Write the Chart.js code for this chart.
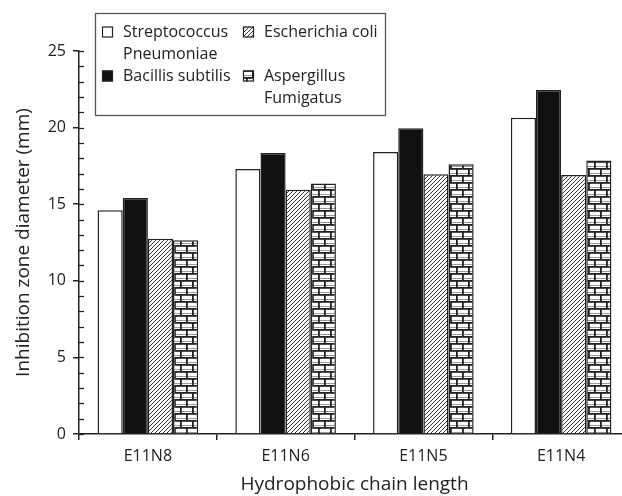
<!DOCTYPE html>
<html>
<head>
<meta charset="utf-8">
<script src="https://cdn.jsdelivr.net/npm/chart.js@4.4.1/dist/chart.umd.min.js"></script>
<style>
  html, body { margin: 0; padding: 0; background: #fff; overflow: hidden; }
  #wrap { width: 622px; height: 496px; overflow: hidden; }
</style>
</head>
<body>
<div id="wrap"><canvas id="chart" width="640" height="496"></canvas></div>
<script>
const categories = ['E11N8', 'E11N6', 'E11N5', 'E11N4'];
const seriesNames = [
  ['Streptococcus', 'Pneumoniae'],
  ['Bacillis subtilis'],
  ['Escherichia coli'],
  ['Aspergillus', 'Fumigatus']
];
const streptococcus = [14.6, 17.3, 18.4, 20.65];
const bacillis = [15.4, 18.35, 19.95, 22.45];
const escherichia = [12.75, 15.95, 16.95, 16.9];
const aspergillus = [12.65, 16.35, 17.6, 17.85];
const yTicks = [0, 5, 10, 15, 20, 25];

const ink = '#222';

function hatchPattern() {
  const c = document.createElement('canvas');
  c.width = 4; c.height = 4;
  const g = c.getContext('2d');
  g.fillStyle = '#fff';
  g.fillRect(0, 0, 4, 4);
  g.strokeStyle = '#333';
  g.lineWidth = 1;
  g.beginPath();
  g.moveTo(0, 4); g.lineTo(4, 0);
  g.moveTo(-1, 1); g.lineTo(1, -1);
  g.moveTo(3, 5); g.lineTo(5, 3);
  g.stroke();
  return g.createPattern(c, 'repeat');
}

function brickPattern() {
  const w = 12, h = 14;
  const c = document.createElement('canvas');
  c.width = w; c.height = h;
  const g = c.getContext('2d');
  g.fillStyle = '#fff';
  g.fillRect(0, 0, w, h);
  g.fillStyle = '#999';
  g.fillRect(0, 5, w, 1);
  g.fillRect(0, 12, w, 1);
  g.fillStyle = ink;
  g.fillRect(0, 0, w, 1.8);
  g.fillRect(0, 7, w, 1.8);
  g.fillRect(0, 0, 1.8, 7);
  g.fillRect(6, 7, 1.8, 7);
  return g.createPattern(c, 'repeat');
}

const fills = ['#fff', '#111', hatchPattern(), brickPattern()];

Chart.defaults.font.family = "'Open Sans', sans-serif";
Chart.defaults.color = ink;

// small ticks on the inner side of the y axis, one per unit
const minorTicks = {
  id: 'minorTicks',
  afterDatasetsDraw(chart) {
    const y = chart.scales.y;
    const x0 = chart.scales.x.left;
    const ctx = chart.ctx;
    ctx.save();
    ctx.strokeStyle = ink;
    ctx.lineWidth = 1.3;
    for (let v = y.min; v <= y.max; v++) {
      const py = Math.round(y.getPixelForValue(v)) + 0.5;
      ctx.beginPath();
      ctx.moveTo(x0, py);
      ctx.lineTo(x0 + 5, py);
      ctx.stroke();
    }
    ctx.restore();
  }
};

// boxed two-column legend with wrapped names
const boxLegend = {
  id: 'boxLegend',
  afterDraw(chart) {
    const ctx = chart.ctx;
    ctx.save();
    ctx.strokeStyle = '#555';
    ctx.lineWidth = 1.3;
    ctx.strokeRect(95.5, 13.5, 290, 102);
    ctx.font = "16px 'Open Sans', sans-serif";
    ctx.textBaseline = 'middle';
    const cols = [102, 243];
    const rows = [32, 76];
    const place = [[0, 0], [0, 1], [1, 0], [1, 1]];
    seriesNames.forEach((lines, i) => {
      const sx = cols[place[i][0]];
      const sy = rows[place[i][1]];
      ctx.fillStyle = fills[i];
      ctx.fillRect(sx, sy - 5.5, 11, 11);
      ctx.strokeStyle = ink;
      ctx.lineWidth = 1.2;
      ctx.strokeRect(sx + 0.5, sy - 5, 10, 10);
      ctx.fillStyle = ink;
      lines.forEach((t, k) => ctx.fillText(t, sx + 21, sy + k * 22));
    });
    ctx.restore();
  }
};

const datasets = [streptococcus, bacillis, escherichia, aspergillus].map((d, i) => ({
  label: seriesNames[i].join(' '),
  data: d,
  backgroundColor: fills[i],
  borderColor: ink,
  borderWidth: 1.5,
  categoryPercentage: 0.73,
  barPercentage: 1.0
}));

new Chart(document.getElementById('chart'), {
  type: 'bar',
  data: { labels: categories, datasets: datasets },
  plugins: [minorTicks, boxLegend],
  options: {
    responsive: false,
    animation: false,
    devicePixelRatio: 1,
    layout: { padding: { left: 8, right: 10, top: 51, bottom: 0 } },
    plugins: { legend: { display: false }, tooltip: { enabled: false } },
    scales: {
      x: {
        afterFit(s) { s.height = 62; },
        grid: { drawOnChartArea: false, color: ink, tickLength: 6, lineWidth: 1.5 },
        border: { color: ink, width: 1.5 },
        ticks: { font: { size: 16 }, padding: 7, color: ink },
        title: { display: true, text: 'Hydrophobic chain length', font: { size: 19 }, padding: { top: 4, bottom: 0 }, color: ink }
      },
      y: {
        min: 0,
        max: 25,
        afterFit(s) { s.width = 71; },
        afterBuildTicks(s) { s.ticks = yTicks.map(v => ({ value: v })); },
        grid: { drawOnChartArea: false, color: ink, tickLength: 6, lineWidth: 1.5 },
        border: { color: ink, width: 1.5 },
        ticks: { font: { size: 16 }, padding: 7, color: ink },
        title: { display: true, text: 'Inhibition zone diameter (mm)', font: { size: 19 }, padding: { bottom: 3 }, color: ink }
      }
    }
  }
});
</script>
</body>
</html>
